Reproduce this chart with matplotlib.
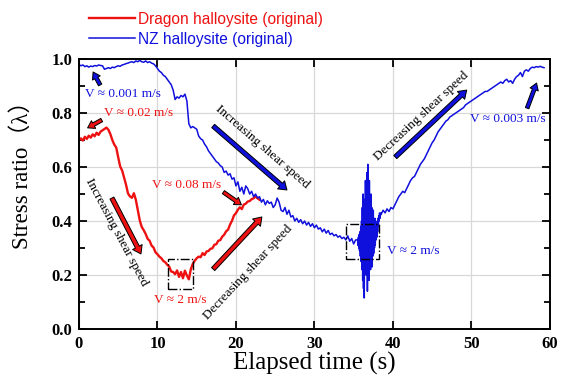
import numpy as np
import matplotlib
matplotlib.use('Agg')
import matplotlib.pyplot as plt
from matplotlib.patches import Rectangle

# Dragon halloysite, sampled every 0.25 s from 0 to 23 s
red_t = np.arange(0, 23.01, 0.25)
red_y = [0.700, 0.706, 0.698, 0.712, 0.704, 0.716, 0.709, 0.721, 0.714, 0.727,
         0.719, 0.731, 0.736, 0.741, 0.746, 0.738, 0.722, 0.700, 0.683, 0.672,
         0.636, 0.602, 0.587, 0.561, 0.534, 0.502, 0.491, 0.486, 0.503, 0.478,
         0.440, 0.402, 0.378, 0.366, 0.352, 0.334, 0.327, 0.309, 0.302, 0.284,
         0.277, 0.268, 0.262, 0.252, 0.247, 0.238, 0.231, 0.213, 0.211, 0.203,
         0.217, 0.193, 0.211, 0.188, 0.216, 0.198, 0.184, 0.221, 0.241, 0.253,
         0.262, 0.268, 0.266, 0.281, 0.274, 0.287, 0.289, 0.297, 0.299, 0.312,
         0.314, 0.327, 0.329, 0.342, 0.349, 0.362, 0.368, 0.387, 0.401, 0.421,
         0.429, 0.442, 0.451, 0.444, 0.461, 0.464, 0.472, 0.474, 0.481, 0.484,
         0.491, 0.484, 0.479]

# NZ halloysite, first part (0 - 35.25 s, every 0.25 s)
blue_t1 = np.arange(0, 35.26, 0.25)
blue_y1 = [0.980, 0.975, 0.978, 0.972, 0.975, 0.970, 0.974, 0.972, 0.976, 0.974,
           0.978, 0.976, 0.975, 0.962, 0.965, 0.968, 0.965, 0.970, 0.968, 0.972,
           0.975, 0.973, 0.978, 0.980, 0.983, 0.985, 0.988, 0.990, 0.987, 0.993,
           0.990, 0.995, 0.990, 0.988, 0.993, 0.987, 0.990, 0.985, 0.982, 0.975,
           0.965, 0.955, 0.950, 0.940, 0.935, 0.925, 0.915, 0.905, 0.885, 0.850,
           0.860, 0.855, 0.865, 0.860, 0.870, 0.845, 0.760, 0.745, 0.750, 0.745,
           0.740, 0.715, 0.705, 0.700, 0.685, 0.675, 0.660, 0.650, 0.640, 0.630,
           0.620, 0.615, 0.605, 0.600, 0.580, 0.585, 0.570, 0.575, 0.555, 0.560,
           0.530, 0.545, 0.510, 0.525, 0.500, 0.530, 0.520, 0.500, 0.510, 0.490,
           0.500, 0.485, 0.490, 0.470, 0.480, 0.460, 0.475, 0.465, 0.470, 0.450,
           0.460, 0.485, 0.470, 0.440, 0.435, 0.450, 0.425, 0.440, 0.415, 0.420,
           0.400, 0.410, 0.395, 0.405, 0.390, 0.400, 0.385, 0.395, 0.380, 0.390,
           0.375, 0.385, 0.370, 0.375, 0.360, 0.370, 0.355, 0.365, 0.350, 0.355,
           0.345, 0.350, 0.340, 0.345, 0.335, 0.340, 0.330, 0.345, 0.325, 0.335,
           0.315, 0.330]

# NZ halloysite, stick-slip burst (35.5 - 38.45 s, every 0.05 s)
blue_t2 = np.arange(35.5, 38.46, 0.05)
blue_y2 = [0.33, 0.31, 0.34, 0.30, 0.35, 0.29, 0.36, 0.27, 0.38, 0.25,
           0.40, 0.22, 0.45, 0.18, 0.50, 0.15, 0.42, 0.115, 0.48, 0.20,
           0.55, 0.25, 0.47, 0.20, 0.58, 0.14, 0.61, 0.22, 0.52, 0.18,
           0.55, 0.24, 0.46, 0.22, 0.50, 0.26, 0.45, 0.23, 0.42, 0.27,
           0.44, 0.28, 0.40, 0.30, 0.41, 0.31, 0.38, 0.33, 0.39, 0.34,
           0.40, 0.36, 0.41, 0.38, 0.42, 0.40, 0.43, 0.41, 0.42, 0.43]

# NZ halloysite, last part (38.5 - 59.25 s, every 0.25 s)
blue_t3 = np.arange(38.5, 59.26, 0.25)
blue_y3 = [0.425, 0.440, 0.430, 0.445, 0.435, 0.450, 0.445, 0.460, 0.475, 0.490,
           0.500, 0.510, 0.505, 0.520, 0.535, 0.550, 0.560, 0.565, 0.580, 0.595,
           0.610, 0.620, 0.630, 0.645, 0.660, 0.675, 0.690, 0.700, 0.715, 0.730,
           0.740, 0.750, 0.760, 0.770, 0.775, 0.785, 0.790, 0.795, 0.800, 0.805,
           0.810, 0.815, 0.820, 0.830, 0.835, 0.840, 0.845, 0.850, 0.855, 0.860,
           0.865, 0.870, 0.875, 0.880, 0.880, 0.885, 0.890, 0.895, 0.900, 0.905,
           0.910, 0.915, 0.910, 0.920, 0.925, 0.915, 0.920, 0.910, 0.925, 0.935,
           0.940, 0.950, 0.935, 0.955, 0.960, 0.955, 0.965, 0.970, 0.968, 0.972,
           0.970, 0.973, 0.970, 0.968]

blue_t = np.concatenate([blue_t1, blue_t2, blue_t3])
blue_y = np.concatenate([blue_y1, blue_y2, blue_y3])

# dash-dot boxes around the 2 m/s segments: (t0, t1, y0, y1)
red_box = (11.3, 14.5, 0.148, 0.26)
blue_box = (34.0, 38.2, 0.26, 0.39)

RED = '#ee1111'
BLUE = '#1010dd'

fig = plt.figure(figsize=(5.64, 3.76), dpi=100)
ax = fig.add_axes([0.140, 0.125, 0.835, 0.718])

ax.plot(red_t, red_y, color=RED, lw=1.7, label='Dragon halloysite (original)')
ax.plot(blue_t, blue_y, color=BLUE, lw=1.1, label='NZ halloysite (original)')

for (t0, t1, y0, y1) in [red_box, blue_box]:
    ax.add_patch(Rectangle((t0, y0), t1 - t0, y1 - y0, fill=False,
                           ec='k', lw=1.0, ls='-.', zorder=3))

ax.set_xlim(0, 60)
ax.set_ylim(0, 1.0)
ax.set_xticks([0, 10, 20, 30, 40, 50, 60])
ax.set_yticks([0.0, 0.2, 0.4, 0.6, 0.8, 1.0])
ax.set_yticks(np.arange(0.1, 1.0, 0.2), minor=True)
ax.grid(True, which='major', color='#d8d8d8', lw=0.9)
ax.set_axisbelow(True)
ax.tick_params(which='both', direction='in', top=True, right=True, width=1.3)
ax.tick_params(which='major', length=6, labelsize=12, pad=5)
ax.tick_params(which='minor', length=4)
for s in ax.spines.values():
    s.set_linewidth(1.4)

ax.set_xticklabels(['0', '10', '20', '30', '40', '50', '60'])
ax.set_yticklabels(['0.0', '0.2', '0.4', '0.6', '0.8', '1.0'])
for lab in ax.get_xticklabels() + ax.get_yticklabels():
    lab.set_fontfamily('Liberation Serif')
    lab.set_fontweight('bold')

ax.set_xlabel('Elapsed time (s)', family='Liberation Serif', fontsize=18, labelpad=0)
ax.set_ylabel('Stress ratio（λ）', family=['Liberation Serif', 'Noto Sans CJK SC'],
              fontsize=16.5)
ax.yaxis.set_label_coords(-0.098, 0.59)

leg = fig.legend(loc='upper left', bbox_to_anchor=(0.138, 1.0), frameon=False,
                 prop={'family': 'Liberation Sans', 'size': 11.2},
                 handlelength=2.9, handletextpad=0.25, labelspacing=0.32,
                 borderaxespad=0.35)
for txt, col in zip(leg.get_texts(), [RED, BLUE]):
    txt.set_color(col)


def arrow(tail, head, fc, big=True):
    if big:
        style = 'simple,head_width=1.1,head_length=0.8,tail_width=0.45'
    else:
        style = 'simple,head_width=0.9,head_length=0.7,tail_width=0.38'
    ax.annotate('', xy=head, xytext=tail,
                arrowprops=dict(arrowstyle=style, fc=fc, ec='k', lw=0.7,
                                shrinkA=0, shrinkB=0, mutation_scale=7),
                zorder=4)


serif = 'Liberation Serif'

# shear speed arrows and labels
arrow((17.1, 0.752), (26.5, 0.515), BLUE)
ax.text(23.3, 0.675, 'Increasing shear speed', rotation=-41, ha='center', va='center',
        family=serif, fontsize=9.5, rotation_mode='anchor')
arrow((40.3, 0.637), (49.4, 0.885), BLUE)
ax.text(43.6, 0.79, 'Decreasing shear speed', rotation=43, ha='center', va='center',
        family=serif, fontsize=9.5, rotation_mode='anchor')
arrow((4.2, 0.485), (7.9, 0.278), RED)
ax.text(4.8, 0.36, 'Increasing shear speed', rotation=-62, ha='center', va='center',
        family=serif, fontsize=9.5, rotation_mode='anchor')
arrow((17.1, 0.222), (23.3, 0.415), RED)
ax.text(21.5, 0.21, 'Decreasing shear speed', rotation=47, ha='center', va='center',
        family=serif, fontsize=9.5, rotation_mode='anchor')

# velocity labels
arrow((2.7, 0.904), (1.8, 0.952), BLUE, big=False)
ax.text(0.75, 0.87, 'V ≈ 0.001 m/s', color=BLUE, family=serif, fontsize=9.5, va='center')
arrow((2.9, 0.774), (1.1, 0.745), RED, big=False)
ax.text(3.2, 0.80, 'V ≈ 0.02 m/s', color=RED, family=serif, fontsize=9.5, va='center')
arrow((18.4, 0.507), (20.7, 0.46), RED, big=False)
ax.text(9.3, 0.533, 'V ≈ 0.08 m/s', color=RED, family=serif, fontsize=9.5, va='center')
ax.text(9.5, 0.107, 'V ≈ 2 m/s', color=RED, family=serif, fontsize=9.5, va='center')
ax.text(39.2, 0.29, 'V ≈ 2 m/s', color=BLUE, family=serif, fontsize=9.5, va='center')
arrow((57.1, 0.818), (58.3, 0.911), BLUE, big=False)
ax.text(49.8, 0.778, 'V ≈ 0.003 m/s', color=BLUE, family=serif, fontsize=9.5, va='center')

fig.savefig('out.png', dpi=100)
